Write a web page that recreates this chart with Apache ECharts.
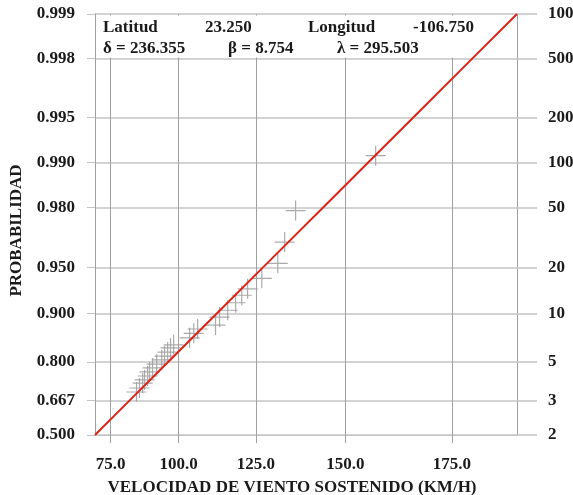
<!DOCTYPE html>
<html>
<head>
<meta charset="utf-8">
<script src="https://cdn.jsdelivr.net/npm/echarts@6/dist/echarts.min.js"></script>
<style>
  html, body { margin: 0; padding: 0; background: #fff; }
  #main { width: 573px; height: 495px; }
</style>
</head>
<body>
<div id="main"></div>
<script>
// parametros del ajuste
var latitud = '23.250';
var longitud = '-106.750';
var delta = 236.355;
var beta = 8.754;
var lambda = 295.503;

var probTicks = [0.500, 0.667, 0.800, 0.900, 0.950, 0.980, 0.990, 0.995, 0.998, 0.999];
var periodTicks = [2, 3, 5, 10, 20, 50, 100, 200, 500, 1000];
var speedTicks = [75, 100, 125, 150, 175];

// datos observados (velocidad km/h, probabilidad)
var obsSpeed = [84.9, 86.0, 87.2, 87.9, 89.0, 89.7, 90.8, 92.3, 94.1, 95.1, 96.2, 97.2, 98.3,
  103.8, 105.2, 106.5, 112.4, 113.7, 116.3, 118.8, 120.7, 122.5, 126.8, 131.5, 133.5, 136.6, 157.6];
var obsProb = [0.701, 0.716, 0.734, 0.745, 0.758, 0.771, 0.783, 0.794, 0.806, 0.816, 0.826, 0.836, 0.843,
  0.858, 0.867, 0.875, 0.882, 0.895, 0.905, 0.915, 0.924, 0.931, 0.941, 0.953, 0.966, 0.979, 0.991];

// escalas del papel de probabilidad
function tx(v) { return -Math.log(lambda - v); }
function ty(p) { return -Math.log(-Math.log(p)); }
function fitSpeed(p) { return lambda - delta * Math.pow(-Math.log(p), 1 / beta); }

var yMin = ty(probTicks[0]);
var yMax = ty(probTicks[probTicks.length - 1]);
var xMin = tx(fitSpeed(probTicks[0]));
var xMax = tx(fitSpeed(probTicks[probTicks.length - 1]));

var scatterData = obsSpeed.map(function (v, i) { return [tx(v), ty(obsProb[i])]; });
var lineData = probTicks.map(function (p) { return [tx(fitSpeed(p)), ty(p)]; });

var yVals = probTicks.map(ty);
function nearestIdx(v) {
  var best = 0;
  for (var i = 1; i < yVals.length; i++) {
    if (Math.abs(yVals[i] - v) < Math.abs(yVals[best] - v)) best = i;
  }
  return best;
}

var font = 'Liberation Serif';
var fs = 17;
var hGrid = '#c4c4c4';
var vGrid = '#a0a0a0';
var txt = '#1a1a1a';
var hdrFont = 'bold 17px "Liberation Serif"';

var chart = echarts.init(document.getElementById('main'));
chart.setOption({
  animation: false,
  backgroundColor: '#fff',
  grid: { left: 95, top: 14, right: 56, bottom: 60, containLabel: false, outerBoundsMode: 'none' },
  xAxis: {
    type: 'value',
    min: xMin,
    max: xMax,
    name: 'VELOCIDAD DE VIENTO SOSTENIDO (KM/H)',
    nameLocation: 'middle',
    nameGap: 44,
    nameTextStyle: { fontFamily: font, fontWeight: 'bold', fontSize: fs, color: txt, padding: [0, 28, 0, 0] },
    axisLine: { show: true, lineStyle: { color: hGrid, width: 1 } },
    axisTick: { show: true, length: 8, lineStyle: { color: vGrid }, customValues: speedTicks.map(tx) },
    axisLabel: {
      customValues: speedTicks.map(tx),
      margin: 21,
      fontFamily: font, fontWeight: 'bold', fontSize: fs, color: txt,
      formatter: function (u) { return (lambda - Math.exp(-u)).toFixed(1); }
    },
    splitLine: { show: true, lineStyle: { color: vGrid, width: 1 } }
  },
  yAxis: [{
    type: 'value',
    min: yMin,
    max: yMax,
    name: 'PROBABILIDAD',
    nameLocation: 'middle',
    nameGap: 70,
    nameTextStyle: { fontFamily: font, fontWeight: 'bold', fontSize: fs, color: txt, padding: [0, 12, 0, 0] },
    axisLine: { show: true, lineStyle: { color: vGrid, width: 1 } },
    axisTick: { show: true, length: 8, lineStyle: { color: hGrid }, customValues: yVals },
    axisLabel: {
      customValues: yVals,
      margin: 20,
      fontFamily: font, fontWeight: 'bold', fontSize: fs, color: txt,
      formatter: function (v) { return probTicks[nearestIdx(v)].toFixed(3); }
    },
    splitLine: { show: true, lineStyle: { color: hGrid, width: 1.5 } }
  }, {
    type: 'value',
    position: 'right',
    min: yMin,
    max: yMax,
    axisLine: { show: true, lineStyle: { color: vGrid, width: 1 } },
    axisTick: { show: true, length: 20, lineStyle: { color: hGrid, width: 1.5 }, customValues: yVals },
    axisLabel: {
      customValues: yVals,
      margin: 31,
      fontFamily: font, fontWeight: 'bold', fontSize: fs, color: txt,
      formatter: function (v) { return String(periodTicks[nearestIdx(v)]); }
    },
    splitLine: { show: false }
  }],
  graphic: [
    { type: 'rect', z: 1, shape: { x: 96, y: 15.5, width: 420, height: 42 }, style: { fill: '#fff' } },
    { type: 'text', z: 3, left: 103, top: 19, style: { text: 'Latitud', font: hdrFont, fill: txt } },
    { type: 'text', z: 3, left: 205, top: 19, style: { text: latitud, font: hdrFont, fill: txt } },
    { type: 'text', z: 3, left: 308, top: 19, style: { text: 'Longitud', font: hdrFont, fill: txt } },
    { type: 'text', z: 3, left: 413, top: 19, style: { text: longitud, font: hdrFont, fill: txt } },
    { type: 'text', z: 3, left: 103, top: 40, style: { text: '\u03b4 = ' + delta.toFixed(3), font: hdrFont, fill: txt } },
    { type: 'text', z: 3, left: 228, top: 40, style: { text: '\u03b2 = ' + beta.toFixed(3), font: hdrFont, fill: txt } },
    { type: 'text', z: 3, left: 337, top: 40, style: { text: '\u03bb = ' + lambda.toFixed(3), font: hdrFont, fill: txt } }
  ],
  series: [{
    type: 'scatter',
    z: 2,
    data: scatterData,
    symbol: 'path://M0,9.4H20V10.6H0Z M9.4,0H10.6V20H9.4Z',
    symbolSize: 20,
    itemStyle: { color: '#9c9c9c', opacity: 0.85 },
    silent: true
  }, {
    type: 'line',
    z: 4,
    data: lineData,
    showSymbol: false,
    lineStyle: { color: '#dd2318', width: 2 },
    silent: true
  }]
});
</script>
</body>
</html>
